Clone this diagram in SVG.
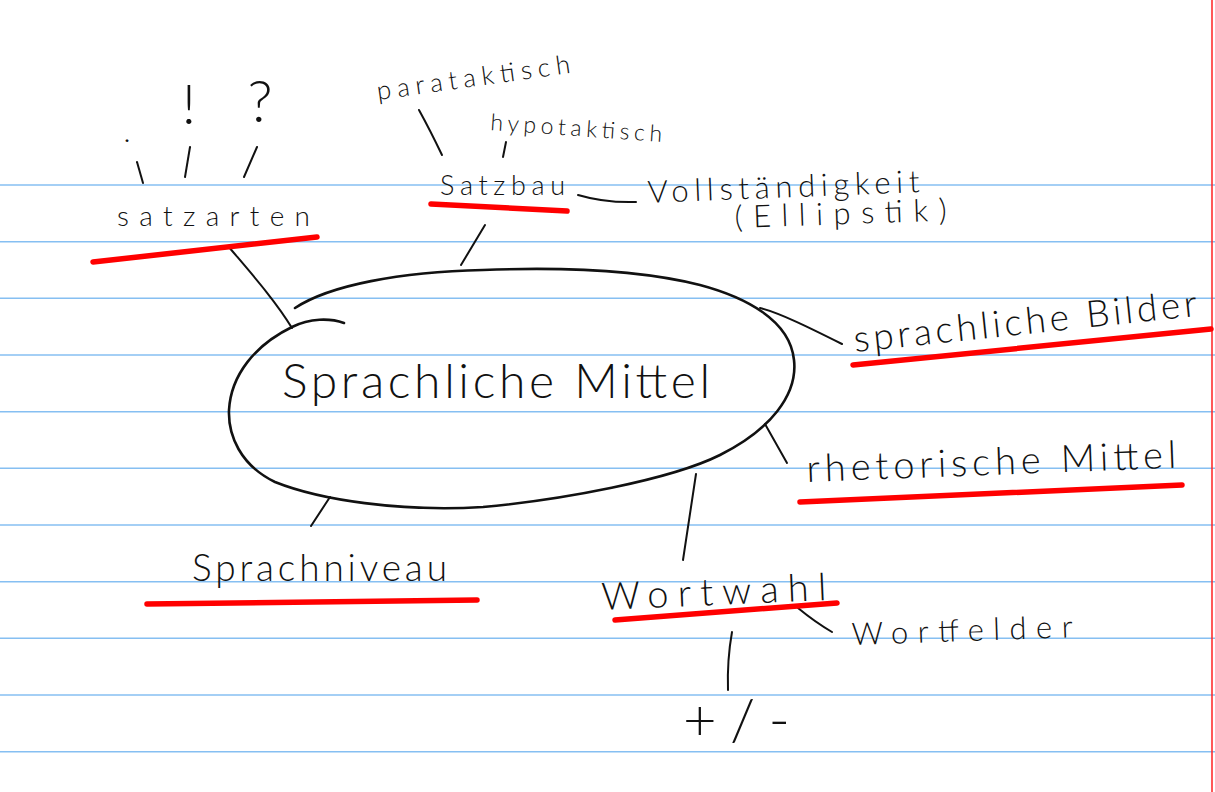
<svg xmlns="http://www.w3.org/2000/svg" width="1215" height="792" viewBox="0 0 1215 792">
  <style>
    .rule { stroke: #86bff2; stroke-width: 1.4; }
    .margin { stroke: #ff2020; stroke-width: 1.5; }
    .ink { fill: none; stroke: #111; stroke-width: 2; stroke-linecap: round; stroke-linejoin: round; }
    .oval { fill: none; stroke: #111; stroke-width: 2.6; stroke-linecap: round; }
    .under { fill: none; stroke: #ff0000; stroke-width: 5.5; stroke-linecap: round; }
    .t { font-family: Lato, "Open Sans", "Liberation Sans", sans-serif; font-weight: 300; fill: #111; }
  </style>
  <rect width="1215" height="792" fill="#ffffff"/>
  <g id="paper">
    <line class="rule" x1="0" y1="185" x2="1215" y2="185"/>
    <line class="rule" x1="0" y1="241.7" x2="1215" y2="241.7"/>
    <line class="rule" x1="0" y1="298.3" x2="1215" y2="298.3"/>
    <line class="rule" x1="0" y1="355" x2="1215" y2="355"/>
    <line class="rule" x1="0" y1="411.7" x2="1215" y2="411.7"/>
    <line class="rule" x1="0" y1="468.3" x2="1215" y2="468.3"/>
    <line class="rule" x1="0" y1="525" x2="1215" y2="525"/>
    <line class="rule" x1="0" y1="581.7" x2="1215" y2="581.7"/>
    <line class="rule" x1="0" y1="638.3" x2="1215" y2="638.3"/>
    <line class="rule" x1="0" y1="695" x2="1215" y2="695"/>
    <line class="rule" x1="0" y1="751.7" x2="1215" y2="751.7"/>
    <line class="margin" x1="1212" y1="0" x2="1212" y2="792"/>
  </g>
  <g id="connectors">
    <path class="ink" d="M228,246 C250,272 275,300 292,328"/>
    <path class="ink" d="M137,162 L143,183"/>
    <path class="ink" d="M190,147 L185,177"/>
    <path class="ink" d="M257,147 L244,177"/>
    <path class="ink" d="M485,225 L461,265"/>
    <path class="ink" d="M419,110 Q430,130 442,155"/>
    <path class="ink" d="M506,142 L503,157"/>
    <path class="ink" d="M578,195 Q605,203 636,202"/>
    <path class="ink" d="M760,308 C780,313 810,328 842,344"/>
    <path class="ink" d="M765,424 L787,463"/>
    <path class="ink" d="M696,474 L683,560"/>
    <path class="ink" d="M330,497 L311,526"/>
    <path class="ink" d="M798,608 Q815,622 832,632"/>
    <path class="ink" d="M732,632 Q727,660 728,690"/>
  </g>
  <g id="node-sprachliche-mittel">
    <path class="oval" d="M295,308 C330,285 400,272 483,270 C560,267 640,270 700,285 C745,297 790,320 794,360 C798,395 770,430 720,455 C670,480 560,500 483,507 C400,512 320,500 275,482 C240,465 228,435 229,410 C231,375 255,345 292,327 C310,318 330,318 344,323"/>
    <text class="t" x="282" y="398" font-size="48" textLength="428" lengthAdjust="spacing">Sprachliche Mittel</text>
  </g>
  <g id="node-satzarten">
    <text class="t" x="117" y="226" font-size="28" textLength="193" lengthAdjust="spacing">satzarten</text>
    <path class="under" d="M93,262 L317,237"/>
  </g>
  <g id="node-punkt"><text class="t" x="127" y="142" font-size="30" text-anchor="middle">.</text></g>
  <g id="node-ausruf"><text class="t" x="189" y="124" font-size="56" text-anchor="middle">!</text></g>
  <g id="node-frage"><text class="t" x="260" y="122" font-size="58" text-anchor="middle">?</text></g>
  <g id="node-satzbau">
    <text class="t" x="440" y="195" font-size="27" textLength="125" lengthAdjust="spacing">Satzbau</text>
    <path class="under" d="M431,204 L567,211"/>
  </g>
  <g id="node-parataktisch">
    <text class="t" x="378" y="100" font-size="26" textLength="195" lengthAdjust="spacing" transform="rotate(-8 378 100)">parataktisch</text>
  </g>
  <g id="node-hypotaktisch">
    <text class="t" x="490" y="130" font-size="23" textLength="172" lengthAdjust="spacing" transform="rotate(4 490 130)">hypotaktisch</text>
  </g>
  <g id="node-vollstaendigkeit">
    <text class="t" x="648" y="203" font-size="31" textLength="272" lengthAdjust="spacing" transform="rotate(-2.3 648 203)">Vollständigkeit</text>
    <text class="t" x="735" y="228" font-size="31" textLength="212" lengthAdjust="spacing" transform="rotate(-2 735 228)">(Ellipstik)</text>
  </g>
  <g id="node-sprachliche-bilder">
    <text class="t" x="855" y="352" font-size="37" textLength="345" lengthAdjust="spacing" transform="rotate(-6 855 352)">sprachliche Bilder</text>
    <path class="under" d="M853,365 L1211,329"/>
  </g>
  <g id="node-rhetorische-mittel">
    <text class="t" x="807" y="482" font-size="38" textLength="370" lengthAdjust="spacing" transform="rotate(-2.2 807 482)">rhetorische Mittel</text>
    <path class="under" d="M800,502 L1182,485"/>
  </g>
  <g id="node-wortwahl">
    <text class="t" x="602" y="610" font-size="38" textLength="225" lengthAdjust="spacing" transform="rotate(-2.5 602 610)">Wortwahl</text>
    <path class="under" d="M615,620 L837,603"/>
  </g>
  <g id="node-wortfelder">
    <text class="t" x="852" y="645" font-size="31" textLength="221" lengthAdjust="spacing" transform="rotate(-2 852 645)">Wortfelder</text>
  </g>
  <g id="node-plusminus">
    <text class="t" x="683" y="740" font-size="58" textLength="107" lengthAdjust="spacing">+/-</text>
  </g>
  <g id="node-sprachniveau">
    <text class="t" x="192" y="581" font-size="37" textLength="255" lengthAdjust="spacing">Sprachniveau</text>
    <path class="under" d="M147,604 L477,600"/>
  </g>
</svg>
